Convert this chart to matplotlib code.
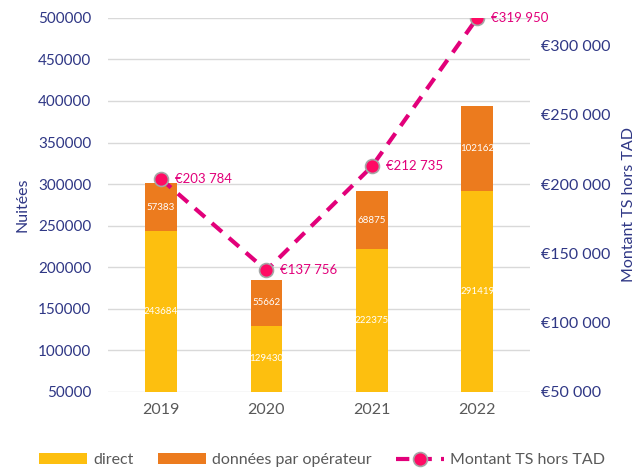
import matplotlib.pyplot as plt
import numpy as np

plt.rcParams['font.family'] = ['Lato', 'DejaVu Sans']

# data
years = ["2019", "2020", "2021", "2022"]
direct = [243684, 129430, 222375, 291419]
operateur = [57383, 55662, 68875, 102162]
montant = [203784, 137756, 212735, 319950]
montant_labels = ["€203 784", "€137 756", "€212 735", "€319 950"]

c_direct = "#FDBF0F"
c_oper = "#EC7B1E"
c_line = "#E2007A"
c_marker = "#FF0A64"
navy = "#2F3785"
gray = "#595959"

fig = plt.figure(figsize=(6.44, 4.70), dpi=100)
ax = fig.add_axes([0.168, 0.166, 0.655, 0.796])
x = np.arange(len(years))

ax.bar(x, direct, width=0.30, color=c_direct, label="direct", zorder=2)
ax.bar(x, operateur, width=0.30, bottom=direct, color=c_oper,
       label="données par opérateur", zorder=2)

# white value labels, centred in the visible part of each segment
for i in range(len(years)):
    ax.text(x[i], (direct[i] + 50000) / 2, str(direct[i]),
            ha="center", va="center", color="white", fontsize=7)
    ax.text(x[i], direct[i] + operateur[i] / 2, str(operateur[i]),
            ha="center", va="center", color="white", fontsize=7)

ax.set_ylim(50000, 500000)
ax.set_yticks(np.arange(50000, 500001, 50000))
ax.set_xlim(-0.5, 3.5)
ax.set_xticks(x)
ax.set_xticklabels(years, fontsize=11.5, color=gray)
ax.tick_params(axis="y", labelsize=11, labelcolor=navy, length=0, pad=12)
ax.tick_params(axis="x", length=0, pad=8)
ax.grid(axis="y", color="#D9D9D9", linewidth=1, zorder=0)
for s in ax.spines.values():
    s.set_visible(False)
ax.set_ylabel("Nuitées", fontsize=11.5, color=navy, labelpad=6)

ax2 = ax.twinx()
ax2.plot(x, montant, linestyle=(0, (3.2, 2.2)), color=c_line, linewidth=3,
         marker="o", markersize=10, markerfacecolor=c_marker,
         markeredgecolor="#A6A6A6", markeredgewidth=1.2,
         label="Montant TS hors TAD", zorder=3)
for i in range(len(years)):
    ax2.annotate(montant_labels[i], (x[i], montant[i]), xytext=(10, 0),
                 textcoords="offset points", ha="left", va="center",
                 color=c_line, fontsize=9.5)
ax2.set_ylim(50000, 320000)
ax2.set_yticks(np.arange(50000, 300001, 50000))
ax2.set_yticklabels(["€{:,}".format(v).replace(",", " ") for v in range(50000, 300001, 50000)])
ax2.tick_params(axis="y", labelsize=11.5, labelcolor=navy, length=0, pad=8)
for s in ax2.spines.values():
    s.set_visible(False)
ax2.set_ylabel("Montant TS hors TAD", fontsize=11.5, color=navy, labelpad=8)

h1, l1 = ax.get_legend_handles_labels()
h2, l2 = ax2.get_legend_handles_labels()
fig.legend(h1 + h2, l1 + l2, loc="lower center", ncol=3, frameon=False,
           fontsize=11.5, labelcolor=gray, bbox_to_anchor=(0.5, -0.025),
           handlelength=3.0, columnspacing=1.5, handletextpad=0.4)

plt.savefig("out.png", dpi=100)
